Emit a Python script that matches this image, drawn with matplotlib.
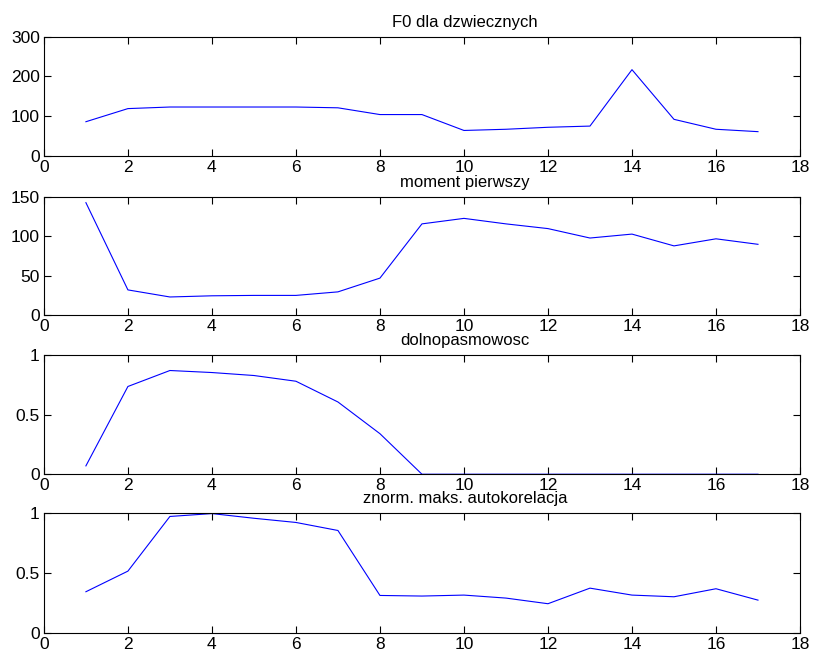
import matplotlib
matplotlib.use("Agg")
import matplotlib.pyplot as plt

plt.rcParams["font.family"] = ["Liberation Sans", "DejaVu Sans"]

frames = list(range(1, 18))

f0 = [86, 119, 123, 123, 123, 123, 121, 104, 104, 64, 67, 72, 75, 217, 92, 67, 61]
moment1 = [143, 32, 23, 24.5, 25, 25, 29.5, 47, 116, 123, 116, 110, 98, 103, 88, 97, 90]
lowpass = [0.07, 0.736, 0.87, 0.853, 0.828, 0.78, 0.606, 0.34, 0, 0, 0, 0, 0, 0, 0, 0, 0]
autocorr = [0.342, 0.514, 0.97, 0.994, 0.955, 0.92, 0.853, 0.311, 0.306, 0.314,
            0.289, 0.242, 0.372, 0.314, 0.30, 0.367, 0.272]

titles = ["F0 dla dzwiecznych", "moment pierwszy", "dolnopasmowosc",
          "znorm. maks. autokorelacja"]
series = [f0, moment1, lowpass, autocorr]
ylims = [(0, 300), (0, 150), (0, 1), (0, 1)]
yticks = [[0, 100, 200, 300], [0, 50, 100, 150], [0, 0.5, 1], [0, 0.5, 1]]
yticklabels = [["0", "100", "200", "300"], ["0", "50", "100", "150"],
               ["0", "0.5", "1"], ["0", "0.5", "1"]]

# axes boxes in figure fractions (left, bottom, width, height)
boxes = [
    (0.054, 0.762, 0.930, 0.182),
    (0.054, 0.519, 0.930, 0.180),
    (0.054, 0.276, 0.930, 0.182),
    (0.054, 0.034, 0.930, 0.183),
]

fig = plt.figure(figsize=(8.13, 6.55), dpi=100)

for box, vals, title, ylim, yt, ytl in zip(boxes, series, titles, ylims, yticks, yticklabels):
    ax = fig.add_axes(box)
    ax.plot(frames, vals, color="#0000ff", linewidth=0.8)
    ax.set_xlim(0, 18)
    ax.set_ylim(*ylim)
    ax.set_xticks(range(0, 19, 2))
    ax.set_yticks(yt)
    ax.set_yticklabels(ytl)
    ax.tick_params(direction="in", top=True, right=True, labelsize=12.5,
                   length=5, width=0.8, pad=3)
    for sp in ax.spines.values():
        sp.set_linewidth(0.8)
    ax.text(0.557, 1.06, title, transform=ax.transAxes, ha="center",
            va="bottom", fontsize=12)

fig.savefig("out.png", dpi=100)
